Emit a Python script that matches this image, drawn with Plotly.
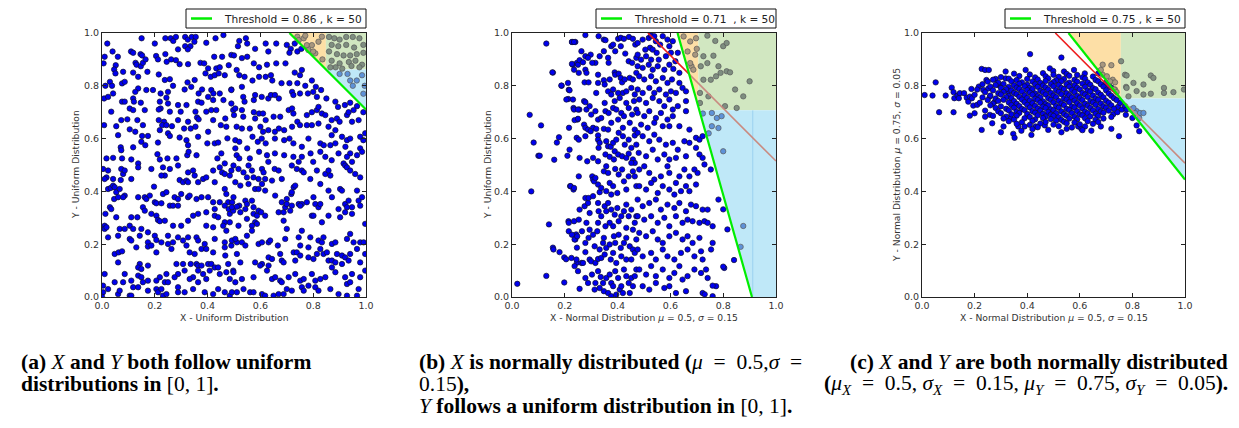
import plotly.graph_objects as go

W, H = 1239, 428

# ---------------- chart values ----------------
thresholds = ["0.86", "0.71", "0.75"]
k_values = [50, 50, 50]
tick_vals = [0.0, 0.2, 0.4, 0.6, 0.8, 1.0]
tick_text = ["0.0", "0.2", "0.4", "0.6", "0.8", "1.0"]

# panel (a): X, Y uniform
a_top_left = [(0.02,0.96),(0.15,0.98),(0.20,0.96),(0.24,0.98),(0.26,0.98),(0.27,0.97),(0.28,0.985),(0.315,0.985),(0.325,0.975),(0.34,0.985),(0.355,0.985),(0.35,0.967),(0.315,0.95),(0.335,0.95),(0.395,0.963),(0.43,0.98),(0.46,0.992),
(0.04,0.93),(0.06,0.91),(0.01,0.91),(0.11,0.93),(0.118,0.925),(0.146,0.92),(0.152,0.915),(0.205,0.913),(0.212,0.90),(0.24,0.92),(0.262,0.90),(0.288,0.938),(0.325,0.938),(0.28,0.897),(0.373,0.887),(0.425,0.91),(0.455,0.91),(0.49,0.917),
(0.006,0.885),(0.052,0.878),(0.046,0.862),(0.127,0.887),(0.131,0.88),(0.147,0.874),(0.155,0.887),(0.165,0.90),(0.172,0.853),(0.245,0.891),(0.294,0.882),(0.326,0.882),(0.387,0.885),(0.402,0.866),(0.433,0.866),(0.446,0.87),(0.48,0.878),
(0.051,0.847),(0.08,0.853),(0.118,0.85),(0.137,0.834),(0.215,0.843),(0.238,0.822),(0.257,0.825),(0.324,0.813),(0.351,0.822),(0.392,0.847),(0.412,0.834),(0.427,0.84),(0.442,0.847),(0.465,0.84),
(0.03,0.815),(0.038,0.80),(0.013,0.80),(0.042,0.771),(0.076,0.809),(0.086,0.815),(0.137,0.79),(0.126,0.777),(0.168,0.784),(0.193,0.784),(0.222,0.771),(0.25,0.777),(0.269,0.80),(0.313,0.786),(0.338,0.796),(0.366,0.771),(0.379,0.786),(0.414,0.784),(0.422,0.771),(0.446,0.771),(0.49,0.786),
(0.008,0.752),(0.023,0.758),(0.076,0.74),(0.086,0.74),(0.118,0.752),(0.121,0.74),(0.147,0.736),(0.219,0.74),(0.244,0.755),(0.222,0.714),(0.25,0.733),(0.288,0.727),(0.32,0.727),(0.364,0.74),(0.377,0.736),(0.402,0.758),(0.421,0.746),(0.46,0.746),(0.49,0.733),
(0.035,0.702),(0.105,0.714),(0.118,0.708),(0.162,0.708),(0.215,0.71),(0.257,0.702),(0.298,0.702),(0.354,0.702),(0.36,0.68),(0.366,0.673),(0.395,0.702),(0.414,0.708),(0.433,0.708),(0.421,0.67),(0.467,0.676),(0.497,0.708),(0.073,0.67),(0.096,0.673),(0.134,0.67),(0.215,0.67),(0.235,0.664),(0.288,0.67),(0.326,0.664),
(0.008,0.651),(0.054,0.647),(0.105,0.635),(0.155,0.651),(0.219,0.632),(0.228,0.651),(0.244,0.651),(0.25,0.62),(0.265,0.647),(0.311,0.638),(0.336,0.638),(0.354,0.645),(0.402,0.626),(0.45,0.651),(0.471,0.645),(0.061,0.613),(0.126,0.626),(0.174,0.61),
(0.152,0.61),(0.149,0.588),(0.212,0.585),(0.257,0.61),(0.294,0.604),(0.32,0.594),(0.326,0.575),(0.364,0.607),(0.399,0.582),(0.427,0.582),(0.44,0.585),(0.475,0.601),(0.071,0.567),(0.118,0.567),(0.164,0.575),
(0.017,0.525),(0.042,0.527),(0.073,0.556),(0.076,0.525),(0.111,0.521),(0.137,0.506),(0.21,0.541),(0.219,0.521),(0.248,0.525),(0.282,0.525),(0.323,0.537),(0.328,0.55),(0.358,0.537),(0.452,0.544),(0.437,0.525),(0.465,0.506)]

a_top_right = [(0.52,0.97),(0.545,0.98),(0.55,0.96),(0.515,0.95),(0.58,0.94),(0.62,0.96),(0.63,0.93),(0.66,0.96),(0.70,0.955),(0.715,0.94),(0.73,0.96),(0.71,0.925),(0.74,0.93),(0.755,0.94),
(0.50,0.915),(0.53,0.905),(0.55,0.91),(0.575,0.885),(0.595,0.87),(0.625,0.88),(0.66,0.885),(0.695,0.885),(0.73,0.85),(0.75,0.84),(0.757,0.86),(0.51,0.86),(0.52,0.84),(0.54,0.834),(0.57,0.82),(0.595,0.834),(0.62,0.834),(0.64,0.84),(0.645,0.82),(0.68,0.81),(0.71,0.81),(0.74,0.81),(0.77,0.80),(0.795,0.82),(0.81,0.796),(0.83,0.784),
(0.49,0.784),(0.53,0.796),(0.535,0.758),(0.54,0.74),(0.575,0.746),(0.58,0.765),(0.605,0.758),(0.63,0.752),(0.64,0.765),(0.655,0.765),(0.67,0.752),(0.72,0.777),(0.725,0.765),(0.75,0.771),(0.78,0.771),(0.80,0.777),(0.814,0.758),(0.85,0.752),(0.884,0.74),(0.894,0.72),(0.92,0.727),(0.94,0.736),(0.966,0.723),(0.99,0.70),
(0.505,0.714),(0.50,0.689),(0.53,0.708),(0.535,0.683),(0.575,0.70),(0.58,0.676),(0.595,0.695),(0.61,0.695),(0.62,0.67),(0.65,0.683),(0.675,0.683),(0.707,0.708),(0.72,0.714),(0.725,0.695),(0.74,0.664),(0.776,0.689),(0.795,0.70),(0.814,0.708),(0.82,0.72),(0.833,0.695),(0.846,0.689),(0.87,0.67),(0.89,0.676),(0.90,0.664),(0.928,0.689),(0.934,0.70),(0.947,0.664),(0.953,0.708),(0.972,0.67),
(0.51,0.645),(0.53,0.638),(0.56,0.638),(0.60,0.645),(0.61,0.626),(0.63,0.632),(0.655,0.626),(0.67,0.638),(0.69,0.632),(0.72,0.645),(0.75,0.651),(0.776,0.651),(0.795,0.651),(0.82,0.657),(0.858,0.645),(0.87,0.613),(0.884,0.632),(0.909,0.607),(0.928,0.594),(0.94,0.60),(0.978,0.607),(0.997,0.62),
(0.505,0.594),(0.52,0.588),(0.57,0.607),(0.59,0.588),(0.605,0.60),(0.62,0.582),(0.655,0.60),(0.69,0.594),(0.71,0.60),(0.725,0.582),(0.757,0.569),(0.782,0.60),(0.827,0.582),(0.84,0.575),(0.865,0.575),(0.884,0.582),(0.922,0.569),(0.94,0.544),(0.978,0.563),(0.99,0.594),
(0.505,0.563),(0.51,0.537),(0.52,0.525),(0.55,0.563),(0.56,0.525),(0.595,0.55),(0.625,0.537),(0.63,0.512),(0.655,0.544),(0.69,0.537),(0.725,0.531),(0.745,0.512),(0.757,0.531),(0.79,0.544),(0.80,0.512),(0.827,0.55),(0.846,0.531),(0.87,0.518),(0.896,0.544),(0.915,0.506),(0.928,0.531),(0.947,0.512),(0.966,0.537),(0.985,0.55)]

a_top_corner = [(0.74,0.986),(0.745,0.973),(0.764,0.98),(0.776,0.954),(0.795,0.954),(0.782,0.935),(0.808,0.923),(0.82,0.967),(0.833,0.986),(0.80,0.93),(0.835,0.90),(0.77,0.99),
(0.86,0.985),(0.88,0.98),(0.90,0.975),(0.925,0.985),(0.95,0.985),(0.975,0.98),(0.87,0.955),(0.895,0.95),(0.925,0.955),(0.955,0.945),(0.99,0.955),(0.86,0.93),(0.89,0.92),(0.915,0.915),(0.94,0.915),(0.965,0.92),(0.99,0.925),(0.87,0.895),(0.90,0.885),(0.935,0.89),(0.96,0.895),(0.985,0.88),(0.885,0.87),(0.91,0.865),(0.975,0.87),(0.945,0.875),(0.865,0.87),
(0.90,0.845),(0.93,0.845),(0.94,0.82),(0.965,0.82),(0.985,0.84),(0.995,0.80),(0.99,0.77),(0.95,0.80)]

a_bottom_left = [(0.004,0.485),(0.017,0.453),(0.023,0.479),(0.073,0.485),(0.08,0.466),(0.086,0.479),(0.111,0.447),(0.137,0.491),(0.187,0.485),(0.231,0.491),(0.238,0.46),(0.257,0.485),(0.288,0.498),(0.326,0.472),(0.345,0.479),(0.351,0.46),(0.383,0.447),(0.395,0.453),(0.421,0.479),(0.446,0.491),(0.455,0.472),(0.465,0.466),(0.484,0.46),(0.01,0.447),(0.042,0.447),(0.071,0.443),(0.294,0.443),(0.307,0.435),(0.32,0.441),(0.326,0.435),(0.364,0.435),(0.427,0.435),(0.49,0.479),
(0.023,0.409),(0.033,0.413),(0.042,0.422),(0.048,0.416),(0.054,0.397),(0.067,0.409),(0.086,0.384),(0.046,0.371),(0.061,0.378),(0.08,0.378),(0.137,0.378),(0.162,0.378),(0.168,0.371),(0.181,0.384),(0.197,0.418),(0.225,0.46),(0.231,0.39),(0.244,0.397),(0.2,0.359),(0.206,0.355),(0.225,0.355),(0.275,0.378),(0.3,0.39),(0.288,0.371),(0.326,0.378),(0.332,0.384),(0.358,0.371),(0.377,0.378),(0.402,0.378),(0.421,0.359),(0.446,0.359),(0.465,0.409),(0.471,0.39),(0.478,0.359),(0.493,0.359),(0.257,0.346),(0.269,0.346),(0.288,0.346),
(0.013,0.315),(0.03,0.34),(0.035,0.333),(0.155,0.34),(0.162,0.327),(0.054,0.302),(0.111,0.302),(0.134,0.302),(0.187,0.315),(0.206,0.308),(0.212,0.292),(0.219,0.287),(0.238,0.289),(0.269,0.27),(0.3,0.27),(0.326,0.289),(0.345,0.308),(0.364,0.315),(0.395,0.321),(0.427,0.333),(0.427,0.308),(0.44,0.302),(0.465,0.346),(0.48,0.333),(0.484,0.315),(0.465,0.283),(0.484,0.283),(0.497,0.327),
(0.01,0.27),(0.01,0.258),(0.017,0.264),(0.067,0.258),(0.086,0.258),(0.105,0.27),(0.118,0.258),(0.149,0.258),(0.174,0.245),(0.2,0.232),(0.225,0.207),(0.25,0.232),(0.288,0.226),(0.307,0.214),(0.326,0.226),(0.358,0.226),(0.395,0.27),(0.421,0.264),(0.459,0.27),(0.471,0.251),(0.023,0.226),(0.061,0.232),(0.105,0.22),(0.111,0.214),(0.143,0.232),(0.174,0.207),(0.206,0.216),(0.269,0.207),(0.364,0.214),(0.389,0.201),(0.427,0.22),(0.465,0.207),
(0.048,0.163),(0.063,0.169),(0.076,0.173),(0.061,0.131),(0.13,0.188),(0.174,0.191),(0.187,0.195),(0.206,0.169),(0.25,0.201),(0.263,0.182),(0.32,0.195),(0.332,0.169),(0.351,0.163),(0.377,0.182),(0.395,0.182),(0.421,0.169),(0.465,0.188),(0.49,0.195),(0.467,0.157),(0.478,0.125),(0.358,0.125),(0.364,0.119),(0.377,0.119),(0.402,0.125),(0.414,0.125),(0.427,0.112),(0.143,0.125),(0.174,0.119),(0.282,0.125),(0.307,0.125),(0.336,0.125),
(0.137,0.112),(0.149,0.106),(0.086,0.087),(0.137,0.081),(0.149,0.075),(0.174,0.062),(0.219,0.075),(0.238,0.056),(0.244,0.087),(0.288,0.087),(0.313,0.1),(0.345,0.075),(0.364,0.1),(0.383,0.087),(0.408,0.1),(0.44,0.112),(0.446,0.087),(0.471,0.094),(0.484,0.068),(0.01,0.087),(0.048,0.056),(0.08,0.056),(0.111,0.062),(0.155,0.056),(0.206,0.062),(0.25,0.056),(0.275,0.075),(0.332,0.068),(0.364,0.056),(0.395,0.068),(0.497,0.1),
(0.004,0.043),(0.004,0.018),(0.023,0.03),(0.061,0.011),(0.067,0.024),(0.105,0.005),(0.118,0.037),(0.137,0.037),(0.174,0.024),(0.206,0.03),(0.212,0.018),(0.225,0.03),(0.231,0.005),(0.244,0.011),(0.288,0.037),(0.288,0.018),(0.313,0.018),(0.345,0.03),(0.389,0.018),(0.421,0.011),(0.44,0.03),(0.465,0.018),(0.484,0.005),(0.111,0.005),(0.0,0.001)]

a_bottom_right = [(0.498,0.498),(0.517,0.485),(0.536,0.472),(0.555,0.498),(0.568,0.479),(0.606,0.485),(0.612,0.472),(0.654,0.485),(0.669,0.479),(0.719,0.498),(0.738,0.485),(0.757,0.479),(0.764,0.472),(0.789,0.447),(0.814,0.479),(0.827,0.428),(0.846,0.466),(0.858,0.479),(0.865,0.46),(0.921,0.498),(0.928,0.491),(0.94,0.479),(0.959,0.466),(0.978,0.453),(0.549,0.453),(0.574,0.453),(0.593,0.447),(0.618,0.447),(0.505,0.435),(0.524,0.422),(0.555,0.428),(0.58,0.409),(0.606,0.428),(0.644,0.441),(0.681,0.447),(0.726,0.416),(0.732,0.422),
(0.498,0.378),(0.543,0.365),(0.549,0.352),(0.568,0.365),(0.574,0.34),(0.593,0.409),(0.618,0.403),(0.656,0.384),(0.681,0.359),(0.7,0.371),(0.717,0.39),(0.719,0.397),(0.745,0.352),(0.757,0.352),(0.776,0.359),(0.801,0.378),(0.808,0.352),(0.82,0.34),(0.827,0.352),(0.858,0.403),(0.871,0.378),(0.902,0.409),(0.909,0.403),(0.921,0.352),(0.934,0.365),(0.947,0.34),(0.966,0.403),(0.972,0.365),(0.985,0.378),(0.978,0.346),(0.52,0.346),
(0.492,0.34),(0.511,0.342),(0.524,0.321),(0.543,0.333),(0.549,0.296),(0.574,0.315),(0.587,0.308),(0.593,0.327),(0.603,0.321),(0.618,0.308),(0.669,0.321),(0.688,0.321),(0.688,0.289),(0.694,0.34),(0.7,0.352),(0.719,0.346),(0.713,0.327),(0.751,0.346),(0.795,0.308),(0.801,0.308),(0.833,0.283),(0.858,0.308),(0.896,0.333),(0.902,0.302),(0.921,0.321),(0.928,0.34),(0.947,0.315),(0.997,0.277),(0.517,0.27),(0.58,0.283),(0.568,0.27),
(0.511,0.207),(0.53,0.207),(0.549,0.232),(0.568,0.251),(0.587,0.277),(0.593,0.201),(0.606,0.207),(0.631,0.207),(0.637,0.214),(0.666,0.195),(0.694,0.22),(0.7,0.258),(0.745,0.226),(0.757,0.251),(0.789,0.226),(0.82,0.214),(0.833,0.207),(0.839,0.226),(0.871,0.201),(0.884,0.207),(0.928,0.22),(0.953,0.207),(0.978,0.207),(0.991,0.207),(0.94,0.239),(0.492,0.214),(0.543,0.195),(0.505,0.22),
(0.511,0.163),(0.524,0.131),(0.58,0.131),(0.606,0.125),(0.631,0.15),(0.644,0.144),(0.675,0.163),(0.681,0.138),(0.688,0.131),(0.726,0.169),(0.732,0.138),(0.738,0.169),(0.751,0.157),(0.782,0.15),(0.801,0.144),(0.814,0.163),(0.827,0.182),(0.839,0.163),(0.852,0.169),(0.858,0.138),(0.871,0.138),(0.884,0.131),(0.89,0.163),(0.909,0.157),(0.921,0.15),(0.934,0.138),(0.909,0.125),(0.94,0.163),(0.978,0.131),(0.997,0.163),(0.966,0.182),(0.751,0.195),(0.782,0.188),
(0.498,0.094),(0.505,0.056),(0.53,0.068),(0.574,0.075),(0.599,0.119),(0.625,0.1),(0.644,0.068),(0.656,0.075),(0.675,0.062),(0.681,0.056),(0.707,0.075),(0.732,0.087),(0.751,0.062),(0.764,0.068),(0.795,0.087),(0.808,0.062),(0.827,0.068),(0.846,0.075),(0.871,0.112),(0.884,0.094),(0.921,0.075),(0.928,0.049),(0.94,0.056),(0.947,0.087),(0.978,0.075),(0.997,0.1),(0.631,0.119),
(0.492,0.018),(0.511,0.018),(0.536,0.03),(0.561,0.018),(0.574,0.018),(0.606,0.011),(0.618,0.005),(0.65,0.005),(0.669,0.011),(0.688,0.011),(0.7,0.03),(0.719,0.024),(0.757,0.037),(0.764,0.024),(0.782,0.043),(0.808,0.037),(0.82,0.024),(0.865,0.03),(0.896,0.011),(0.928,0.005),(0.966,0.005),(0.972,0.03)]

# panel (b): X normal, Y uniform
b_left_sparse = [(0.02,0.05),(0.067,0.69),(0.082,0.585),(0.073,0.40),(0.10,0.535),(0.105,0.535),(0.11,0.65),(0.13,0.96),(0.13,0.08),(0.14,0.275),(0.155,0.85),(0.16,0.52),(0.17,0.585),(0.178,0.605),(0.188,0.80),(0.155,0.187),(0.157,0.18),(0.18,0.17),(0.198,0.15),(0.205,0.143),(0.198,0.055),(0.21,0.535),(0.215,0.785),(0.213,0.75),(0.22,0.42),(0.233,0.407),(0.214,0.287),(0.233,0.716),(0.23,0.88),(0.228,0.966),(0.24,0.966),(0.246,0.887),(0.248,0.672),(0.255,0.71),(0.243,0.237),(0.24,0.218),(0.246,0.187),(0.246,0.13)]

b_center_left = [(0.227,0.966),(0.235,0.966),(0.278,0.992),(0.328,0.988),(0.348,0.975),(0.354,0.973),(0.376,0.95),(0.383,0.956),(0.402,0.978),(0.412,0.982),(0.424,0.978),(0.443,0.985),(0.458,0.978),(0.467,0.956),(0.263,0.931),(0.278,0.912),(0.298,0.918),(0.316,0.887),(0.332,0.912),(0.348,0.931),(0.364,0.906),(0.366,0.887),(0.391,0.931),(0.412,0.95),(0.429,0.922),(0.442,0.893),(0.455,0.887),(0.471,0.906),(0.227,0.883),(0.25,0.88),(0.256,0.897),(0.269,0.889),(0.288,0.906),(0.304,0.887),
(0.153,0.851),(0.187,0.801),(0.212,0.811),(0.218,0.783),(0.235,0.861),(0.253,0.849),(0.275,0.813),(0.278,0.861),(0.282,0.849),(0.29,0.813),(0.326,0.842),(0.326,0.811),(0.348,0.821),(0.351,0.805),(0.37,0.824),(0.389,0.851),(0.391,0.842),(0.404,0.846),(0.412,0.83),(0.417,0.813),(0.427,0.824),(0.446,0.83),(0.458,0.824),(0.471,0.849),(0.383,0.786),(0.364,0.779),(0.42,0.773),(0.433,0.779),(0.452,0.792),(0.465,0.767),(0.319,0.773),(0.376,0.767),(0.402,0.773),
(0.206,0.748),(0.231,0.748),(0.235,0.71),(0.25,0.71),(0.273,0.742),(0.278,0.738),(0.282,0.71),(0.294,0.723),(0.3,0.691),(0.316,0.704),(0.326,0.672),(0.338,0.678),(0.351,0.735),(0.354,0.704),(0.366,0.697),(0.383,0.716),(0.389,0.742),(0.395,0.71),(0.408,0.754),(0.414,0.697),(0.424,0.685),(0.433,0.735),(0.442,0.716),(0.455,0.691),(0.462,0.742),(0.471,0.71),(0.216,0.641),(0.237,0.67),(0.25,0.675),(0.273,0.653),(0.278,0.641),(0.288,0.634),(0.307,0.641),(0.319,0.637),(0.348,0.637),(0.364,0.634),(0.376,0.66),(0.402,0.672),(0.42,0.641),(0.446,0.66),(0.465,0.634),
(0.218,0.558),(0.245,0.603),(0.253,0.596),(0.278,0.609),(0.298,0.628),(0.326,0.612),(0.326,0.596),(0.332,0.584),(0.357,0.59),(0.364,0.571),(0.374,0.569),(0.383,0.584),(0.389,0.552),(0.395,0.596),(0.404,0.622),(0.42,0.609),(0.427,0.577),(0.442,0.596),(0.452,0.565),(0.465,0.612),(0.471,0.577),(0.328,0.565),(0.354,0.54),(0.37,0.531),(0.386,0.521),(0.402,0.54),(0.417,0.533),(0.433,0.527),(0.442,0.543),(0.458,0.521),(0.465,0.508),(0.307,0.527),(0.256,0.527),(0.285,0.514),(0.326,0.514),
(0.222,0.42),(0.235,0.413),(0.253,0.457),(0.304,0.457),(0.307,0.445),(0.311,0.438),(0.316,0.451),(0.326,0.426),(0.332,0.397),(0.338,0.413),(0.348,0.476),(0.357,0.495),(0.364,0.47),(0.37,0.432),(0.383,0.42),(0.391,0.485),(0.399,0.394),(0.404,0.464),(0.417,0.483),(0.424,0.438),(0.433,0.407),(0.442,0.457),(0.452,0.508),(0.458,0.476),(0.471,0.42),(0.465,0.457),(0.357,0.401),(0.376,0.388),
(0.215,0.281),(0.235,0.287),(0.253,0.293),(0.256,0.331),(0.275,0.344),(0.278,0.375),(0.288,0.356),(0.29,0.375),(0.294,0.318),(0.307,0.382),(0.326,0.356),(0.328,0.325),(0.338,0.306),(0.351,0.344),(0.357,0.325),(0.364,0.356),(0.376,0.331),(0.383,0.268),(0.389,0.312),(0.399,0.337),(0.404,0.287),(0.414,0.306),(0.424,0.325),(0.433,0.35),(0.442,0.306),(0.452,0.331),(0.465,0.281),(0.471,0.306),(0.326,0.281),(0.354,0.268),(0.37,0.281),(0.433,0.262),(0.458,0.255),(0.282,0.281),(0.294,0.255),
(0.215,0.249),(0.227,0.236),(0.237,0.218),(0.247,0.23),(0.265,0.249),(0.278,0.205),(0.29,0.224),(0.307,0.236),(0.313,0.192),(0.323,0.249),(0.332,0.18),(0.345,0.205),(0.348,0.224),(0.357,0.186),(0.37,0.199),(0.386,0.23),(0.391,0.205),(0.404,0.236),(0.412,0.186),(0.424,0.205),(0.433,0.224),(0.446,0.192),(0.458,0.18),(0.471,0.218),(0.225,0.148),(0.244,0.142),(0.263,0.129),(0.278,0.17),(0.294,0.142),(0.3,0.135),(0.316,0.129),(0.326,0.144),(0.338,0.148),(0.351,0.161),(0.374,0.142),(0.383,0.167),(0.395,0.129),(0.414,0.154),(0.433,0.142),(0.452,0.142),(0.465,0.167),
(0.237,0.117),(0.25,0.098),(0.269,0.129),(0.278,0.072),(0.288,0.053),(0.303,0.085),(0.316,0.053),(0.326,0.098),(0.336,0.076),(0.345,0.053),(0.357,0.072),(0.37,0.085),(0.376,0.053),(0.383,0.041),(0.391,0.098),(0.402,0.072),(0.408,0.028),(0.414,0.041),(0.424,0.104),(0.433,0.079),(0.442,0.053),(0.452,0.072),(0.458,0.041),(0.465,0.079),(0.471,0.104),(0.313,0.028),(0.332,0.034),(0.348,0.022),(0.364,0.015),(0.376,0.003),(0.395,0.009),(0.42,0.015),(0.446,0.015),(0.256,0.031)]

b_center_right = [(0.476,0.962),(0.495,0.975),(0.518,0.981),(0.527,0.99),(0.539,0.988),(0.545,0.969),(0.523,0.944),(0.505,0.937),(0.533,0.937),(0.561,0.956),(0.571,0.988),(0.589,0.975),(0.596,0.95),(0.609,0.969),(0.476,0.918),(0.489,0.899),(0.508,0.912),(0.527,0.899),(0.548,0.925),(0.556,0.899),(0.583,0.912),(0.602,0.925),(0.619,0.893),(0.628,0.925),
(0.476,0.874),(0.495,0.868),(0.518,0.88),(0.533,0.861),(0.552,0.874),(0.577,0.861),(0.596,0.88),(0.611,0.864),(0.634,0.849),(0.482,0.836),(0.501,0.824),(0.527,0.836),(0.545,0.817),(0.571,0.83),(0.589,0.811),(0.606,0.824),(0.634,0.811),(0.646,0.792),(0.476,0.786),(0.495,0.773),(0.52,0.792),(0.539,0.773),(0.558,0.786),(0.583,0.767),(0.602,0.779),(0.621,0.773),(0.659,0.779),
(0.482,0.748),(0.508,0.735),(0.533,0.754),(0.558,0.742),(0.577,0.723),(0.596,0.748),(0.609,0.71),(0.628,0.723),(0.659,0.742),(0.476,0.697),(0.501,0.685),(0.52,0.704),(0.545,0.678),(0.564,0.697),(0.589,0.672),(0.609,0.685),(0.634,0.647),(0.659,0.704),(0.489,0.653),(0.514,0.641),(0.539,0.66),(0.571,0.647),(0.596,0.647),(0.672,0.634),
(0.476,0.622),(0.495,0.609),(0.52,0.59),(0.539,0.615),(0.558,0.596),(0.583,0.577),(0.609,0.584),(0.628,0.558),(0.653,0.59),(0.672,0.584),(0.697,0.603),(0.71,0.596),(0.722,0.609),(0.48,0.546),(0.508,0.533),(0.533,0.558),(0.552,0.521),(0.577,0.54),(0.596,0.521),(0.621,0.527),(0.659,0.533),(0.697,0.565),(0.71,0.54),(0.722,0.527),
(0.482,0.483),(0.501,0.495),(0.52,0.47),(0.539,0.445),(0.564,0.457),(0.589,0.495),(0.596,0.47),(0.621,0.432),(0.634,0.457),(0.653,0.483),(0.672,0.457),(0.691,0.483),(0.703,0.47),(0.729,0.502),(0.482,0.42),(0.508,0.407),(0.527,0.432),(0.552,0.394),(0.571,0.42),(0.596,0.407),(0.615,0.388),(0.64,0.401),(0.659,0.42),(0.672,0.401),(0.697,0.426),
(0.476,0.369),(0.495,0.344),(0.52,0.356),(0.545,0.369),(0.564,0.331),(0.589,0.35),(0.615,0.337),(0.634,0.356),(0.659,0.325),(0.678,0.35),(0.697,0.344),(0.722,0.331),(0.741,0.331),(0.476,0.306),(0.501,0.293),(0.527,0.306),(0.552,0.281),(0.577,0.3),(0.596,0.268),(0.621,0.306),(0.646,0.281),(0.665,0.293),(0.684,0.287),(0.71,0.281),(0.729,0.287),(0.741,0.281),(0.76,0.268),
(0.482,0.243),(0.508,0.23),(0.533,0.249),(0.552,0.218),(0.571,0.205),(0.596,0.23),(0.621,0.243),(0.646,0.218),(0.665,0.23),(0.684,0.205),(0.71,0.224),(0.76,0.205),(0.476,0.18),(0.495,0.154),(0.527,0.167),(0.545,0.142),(0.571,0.18),(0.589,0.154),(0.615,0.142),(0.64,0.167),(0.665,0.18),(0.691,0.154),(0.716,0.173),(0.722,0.142),(0.754,0.18),
(0.482,0.104),(0.508,0.085),(0.527,0.117),(0.545,0.079),(0.571,0.104),(0.596,0.072),(0.615,0.091),(0.634,0.117),(0.646,0.066),(0.665,0.079),(0.691,0.104),(0.716,0.091),(0.735,0.104),(0.741,0.072),(0.773,0.041),(0.804,0.11),(0.495,0.041),(0.52,0.028),(0.545,0.053),(0.577,0.034),(0.596,0.041),(0.621,0.015),(0.659,0.022),(0.722,0.015),(0.76,0.003),
(0.753,0.483),(0.782,0.369),(0.80,0.332),(0.816,0.256),(0.80,0.115),(0.841,0.14),(0.76,0.043),(0.73,0.01)]

b_top_corner = [(0.65,0.987),(0.675,0.968),(0.697,0.98),(0.694,0.918),(0.68,0.874),(0.687,0.861),(0.675,0.886),(0.70,0.94),(0.665,0.93),
(0.725,0.912),(0.74,0.886),(0.763,0.914),(0.782,0.874),(0.80,0.95),(0.813,0.962),(0.715,0.874),(0.725,0.823),(0.753,0.823),(0.773,0.836),(0.79,0.849),(0.813,0.855),(0.826,0.851),(0.845,0.786),(0.876,0.76),(0.90,0.817),(0.807,0.723),(0.851,0.716),(0.744,0.76),(0.712,0.773),(0.712,0.735),(0.74,0.99),(0.77,0.97),
(0.723,0.695),(0.757,0.697),(0.776,0.678),(0.757,0.647),(0.782,0.64),(0.794,0.685),(0.80,0.552),(0.876,0.269),(0.866,0.19),(0.745,0.62)]

# panel (c): X normal, Y normal
c_outer = [(0.01,0.765),(0.04,0.763),(0.052,0.813),(0.065,0.70),(0.09,0.763),(0.113,0.793),(0.12,0.776),(0.123,0.753),(0.12,0.70),(0.135,0.763),(0.144,0.772),(0.14,0.753),(0.16,0.772),(0.17,0.755),(0.176,0.74),(0.182,0.759),(0.19,0.753),(0.188,0.788),(0.195,0.725),(0.182,0.687),(0.2,0.696),(0.21,0.728),(0.216,0.797),(0.227,0.864),(0.24,0.86),(0.254,0.86),(0.233,0.784),(0.245,0.822),(0.252,0.79),(0.258,0.759),(0.24,0.683),(0.258,0.69),(0.227,0.633),(0.267,0.658),(0.28,0.826),(0.29,0.803),(0.277,0.74),(0.31,0.646),(0.30,0.624),(0.318,0.854),(0.318,0.828),(0.328,0.778),(0.338,0.677),(0.347,0.618),(0.352,0.603),(0.366,0.646),(0.378,0.63),(0.394,0.86),(0.416,0.614),(0.432,0.646),(0.467,0.65),(0.486,0.866),(0.499,0.856),(0.53,0.907),(0.411,0.92),(0.53,0.624),(0.54,0.854),(0.578,0.86),(0.594,0.646),(0.606,0.637),(0.619,0.847),(0.644,0.63),(0.67,0.847),(0.68,0.646),(0.72,0.637),(0.727,0.692),(0.743,0.70),(0.745,0.72),(0.749,0.609),(0.80,0.678),(0.816,0.65),(0.826,0.628),(0.76,0.71),(0.775,0.69)]

c_corner = [(0.687,0.88),(0.72,0.878),(0.687,0.842),(0.703,0.836),(0.725,0.823),(0.734,0.813),(0.715,0.817),(0.68,0.86),(0.734,0.786),
(0.757,0.893),(0.772,0.842),(0.778,0.839),(0.804,0.811),(0.842,0.805),(0.87,0.839),(0.88,0.83),(0.92,0.792),(0.956,0.776),(0.996,0.786),(0.92,0.773),(0.816,0.78),(0.776,0.796),(0.785,0.76),(0.778,0.792),(0.842,0.767),(0.87,0.77),
(0.753,0.735),(0.772,0.723),(0.794,0.71),(0.816,0.704),(0.829,0.697),(0.842,0.697),(0.804,0.716),(0.81,0.697),(0.778,0.71),(0.826,0.678)]

c_core = [(0.35,0.846),(0.41,0.843),(0.46,0.848),(0.50,0.842),(0.55,0.845),(0.59,0.841),
(0.30,0.833),(0.37,0.837),(0.43,0.832),(0.47,0.836),(0.52,0.834),(0.56,0.838),(0.61,0.832),(0.65,0.835),
(0.27,0.823),(0.33,0.827),(0.36,0.822),(0.40,0.826),(0.44,0.824),(0.48,0.828),(0.51,0.821),(0.54,0.826),(0.58,0.823),(0.62,0.827),(0.66,0.822),
(0.25,0.816),(0.29,0.812),(0.34,0.817),(0.38,0.813),(0.42,0.816),(0.45,0.811),(0.47,0.818),(0.50,0.814),(0.53,0.817),(0.56,0.812),(0.59,0.816),(0.63,0.813),(0.67,0.817),(0.70,0.812),
(0.23,0.806),(0.28,0.803),(0.31,0.807),(0.35,0.802),(0.37,0.808),(0.40,0.804),(0.43,0.806),(0.46,0.801),(0.49,0.807),(0.52,0.803),(0.55,0.806),(0.58,0.802),(0.61,0.808),(0.64,0.804),(0.68,0.806),(0.71,0.801),
(0.26,0.797),(0.30,0.792),(0.33,0.796),(0.36,0.793),(0.39,0.798),(0.41,0.792),(0.44,0.796),(0.47,0.794),(0.50,0.798),(0.53,0.792),(0.56,0.797),(0.59,0.793),(0.62,0.796),(0.65,0.791),(0.69,0.797),(0.72,0.793),
(0.21,0.786),(0.27,0.783),(0.32,0.787),(0.34,0.782),(0.37,0.788),(0.40,0.784),(0.42,0.787),(0.45,0.781),(0.48,0.786),(0.51,0.783),(0.54,0.788),(0.57,0.784),(0.60,0.786),(0.63,0.782),(0.66,0.787),(0.70,0.783),(0.73,0.786),
(0.24,0.776),(0.29,0.772),(0.31,0.777),(0.35,0.773),(0.38,0.778),(0.41,0.774),(0.43,0.771),(0.46,0.776),(0.49,0.773),(0.52,0.777),(0.55,0.772),(0.58,0.776),(0.61,0.773),(0.64,0.778),(0.67,0.774),(0.71,0.771),(0.74,0.776),
(0.20,0.766),(0.26,0.763),(0.30,0.767),(0.33,0.762),(0.36,0.768),(0.39,0.764),(0.42,0.766),(0.44,0.761),(0.47,0.767),(0.50,0.763),(0.53,0.768),(0.56,0.764),(0.59,0.762),(0.62,0.767),(0.65,0.763),(0.68,0.766),(0.72,0.762),
(0.23,0.756),(0.28,0.752),(0.32,0.757),(0.34,0.753),(0.37,0.758),(0.40,0.754),(0.43,0.751),(0.45,0.756),(0.48,0.753),(0.51,0.757),(0.54,0.752),(0.57,0.756),(0.60,0.754),(0.63,0.758),(0.66,0.752),(0.69,0.756),(0.73,0.753),
(0.25,0.746),(0.29,0.743),(0.31,0.747),(0.35,0.742),(0.38,0.748),(0.41,0.744),(0.44,0.746),(0.46,0.741),(0.49,0.747),(0.52,0.743),(0.55,0.748),(0.58,0.744),(0.61,0.746),(0.64,0.742),(0.67,0.747),(0.70,0.743),(0.74,0.746),
(0.22,0.736),(0.27,0.733),(0.33,0.737),(0.36,0.732),(0.39,0.738),(0.42,0.734),(0.45,0.736),(0.47,0.731),(0.50,0.737),(0.53,0.733),(0.56,0.738),(0.59,0.734),(0.62,0.732),(0.65,0.737),(0.68,0.733),(0.71,0.736),
(0.26,0.726),(0.30,0.722),(0.34,0.727),(0.37,0.723),(0.40,0.728),(0.43,0.724),(0.46,0.721),(0.48,0.726),(0.51,0.723),(0.54,0.727),(0.57,0.722),(0.60,0.726),(0.63,0.724),(0.66,0.728),(0.69,0.722),(0.72,0.726),
(0.28,0.716),(0.32,0.713),(0.35,0.717),(0.38,0.712),(0.41,0.718),(0.44,0.714),(0.47,0.716),(0.49,0.711),(0.52,0.717),(0.55,0.713),(0.58,0.718),(0.61,0.714),(0.64,0.716),(0.67,0.712),(0.70,0.717),(0.73,0.713),
(0.24,0.706),(0.29,0.703),(0.33,0.707),(0.36,0.702),(0.39,0.708),(0.42,0.704),(0.45,0.706),(0.48,0.701),(0.50,0.707),(0.53,0.703),(0.56,0.708),(0.59,0.704),(0.62,0.702),(0.65,0.707),(0.68,0.703),(0.71,0.706),
(0.30,0.696),(0.34,0.692),(0.37,0.697),(0.40,0.693),(0.43,0.698),(0.46,0.694),(0.49,0.691),(0.51,0.696),(0.54,0.693),(0.57,0.697),(0.60,0.692),(0.63,0.696),(0.66,0.694),(0.69,0.698),
(0.27,0.686),(0.32,0.683),(0.36,0.687),(0.41,0.682),(0.44,0.688),(0.47,0.684),(0.50,0.686),(0.52,0.681),(0.55,0.687),(0.58,0.683),(0.61,0.688),(0.64,0.684),(0.67,0.686),(0.72,0.682),
(0.31,0.676),(0.35,0.672),(0.39,0.677),(0.43,0.673),(0.46,0.678),(0.49,0.674),(0.53,0.671),(0.56,0.676),(0.59,0.673),(0.62,0.677),(0.66,0.672),(0.69,0.676),
(0.33,0.666),(0.38,0.662),(0.42,0.667),(0.47,0.663),(0.51,0.668),(0.54,0.664),(0.58,0.661),(0.63,0.666),(0.67,0.663),
(0.36,0.656),(0.41,0.652),(0.45,0.657),(0.50,0.653),(0.55,0.658),(0.60,0.654),(0.65,0.656),
(0.39,0.646),(0.44,0.643),(0.52,0.647),(0.57,0.642),(0.62,0.646),
(0.42,0.636),(0.48,0.633),(0.55,0.637),(0.61,0.632)]

# ---------------- geometry / styling ----------------
panel_px = [(102, 366), (512, 776), (922, 1185)]
plot_top, plot_bottom = 33, 297
green_lines = [((0.71, 1.0), (1.0, 0.71)), ((0.627, 1.0), (0.909, 0.0)), ((0.557, 1.0), (1.0, 0.445))]
red_lines = [None, ((0.515, 1.0), (0.671, 0.844), (1.0, 0.515)), ((0.507, 1.0), (0.755, 0.752), (1.0, 0.507))]
splits = [(0.848, 0.862), (0.706, 0.707), (0.756, 0.752)]

panels_pts = [a_top_left + a_top_right + a_top_corner + a_bottom_left + a_bottom_right,
              b_left_sparse + b_center_left + b_center_right + b_top_corner,
              c_outer + c_corner + c_core]

C_ORANGE, C_GREEN, C_BLUE = "#fddfa6", "#d1e7c1", "#bfe8f8"
PT_COL = {"n": "#0000f0", "o": "#a8977f", "g": "#7e8e80", "b": "#5e92d8"}


def side(x, y, p0, p1):
    return (p1[0] - p0[0]) * (y - p0[1]) - (p1[1] - p0[1]) * (x - p0[0])


def classify(x, y, g, tx, ty):
    ref = side(1.0, 1.0, g[0], g[1])
    if side(x, y, g[0], g[1]) * ref <= 0:
        return "n"
    if x >= tx and y >= ty:
        return "g"
    if y >= ty:
        return "o"
    return "b"


def line_x_at(g, y):
    (x0, y0), (x1, y1) = g
    return x0 + (y - y0) * (x1 - x0) / (y1 - y0)


def line_y_at(g, x):
    (x0, y0), (x1, y1) = g
    return y0 + (x - x0) * (y1 - y0) / (x1 - x0)


fig = go.Figure()
shapes = []
annotations = []
ydom = [1 - plot_bottom / H, 1 - plot_top / H]
FONT = "DejaVu Sans"

for i in range(3):
    sfx = "" if i == 0 else str(i + 1)
    xr, yr = "x" + sfx, "y" + sfx
    g = green_lines[i]
    tx, ty = splits[i]
    pts = panels_pts[i]
    cls = [classify(x, y, g, tx, ty) for x, y in pts]

    ox = line_x_at(g, 1.0)
    oy_end = line_y_at(g, tx)
    shapes.append(dict(type="path", xref=xr, yref=yr, layer="below", line=dict(width=0),
                       fillcolor=C_ORANGE,
                       path=f"M {ox},1 L {tx},1 L {tx},{max(oy_end, ty)} Z"))
    shapes.append(dict(type="rect", xref=xr, yref=yr, layer="below", line=dict(width=0),
                       fillcolor=C_GREEN, x0=tx, x1=1, y0=ty, y1=1))
    bx = line_x_at(g, ty)
    if g[1][1] > 0:
        bpath = f"M {bx},{ty} L 1,{ty} L 1,{g[1][1]} Z"
    else:
        bpath = f"M {bx},{ty} L 1,{ty} L 1,0 L {g[1][0]},0 Z"
    shapes.append(dict(type="path", xref=xr, yref=yr, layer="below", line=dict(width=0),
                       fillcolor=C_BLUE, path=bpath))
    if i == 1:
        shapes.append(dict(type="line", xref=xr, yref=yr, layer="below",
                           x0=0.912, x1=0.912, y0=0, y1=ty,
                           line=dict(color="rgba(110,185,230,0.45)", width=1)))

    for c in ["n", "o", "g", "b"]:
        xs = [p[0] for p, k in zip(pts, cls) if k == c]
        ys = [p[1] for p, k in zip(pts, cls) if k == c]
        if not xs:
            continue
        fig.add_trace(go.Scatter(
            x=xs, y=ys, mode="markers", xaxis=xr, yaxis=yr, showlegend=False,
            hoverinfo="skip",
            marker=dict(size=5.4, color=PT_COL[c],
                        line=dict(color="#10102a" if c == "n" else "#5a5a5a", width=0.7))))

    r = red_lines[i]
    if r is not None:
        fig.add_trace(go.Scatter(x=[r[0][0], r[1][0]], y=[r[0][1], r[1][1]], mode="lines",
                                 xaxis=xr, yaxis=yr, showlegend=False, hoverinfo="skip",
                                 line=dict(color="#ee1c1c", width=1.6)))
        fig.add_trace(go.Scatter(x=[r[1][0], r[2][0]], y=[r[1][1], r[2][1]], mode="lines",
                                 xaxis=xr, yaxis=yr, showlegend=False, hoverinfo="skip",
                                 line=dict(color="#c98a80", width=1.6)))
    fig.add_trace(go.Scatter(x=[g[0][0], g[1][0]], y=[g[0][1], g[1][1]], mode="lines",
                             xaxis=xr, yaxis=yr, showlegend=False, hoverinfo="skip",
                             name=f"Threshold = {thresholds[i]} , k = {k_values[i]}",
                             line=dict(color="#00ee00", width=2.2)))

    px0, px1 = panel_px[i]
    axis_common = dict(range=[0, 1], tickvals=tick_vals, ticktext=tick_text, ticks="inside",
                       ticklen=4, tickwidth=1, tickcolor="#222", showline=True, linecolor="#222",
                       linewidth=1, mirror="ticks", showgrid=False, zeroline=False,
                       automargin=False,
                       tickfont=dict(family=FONT, size=9.5, color="#333"), fixedrange=True)
    fig.update_layout(**{
        "xaxis" + sfx: dict(domain=[px0 / W, px1 / W], anchor=yr, **axis_common),
        "yaxis" + sfx: dict(domain=ydom, anchor=xr, **axis_common),
    })

    lx0 = px1 - 180
    shapes.append(dict(type="rect", xref="paper", yref="paper", x0=lx0 / W, x1=px1 / W,
                       y0=1 - 28 / H, y1=1 - 9 / H, line=dict(color="#111", width=1),
                       fillcolor="white"))
    shapes.append(dict(type="line", xref="paper", yref="paper", x0=(lx0 + 5) / W,
                       x1=(lx0 + 26) / W, y0=1 - 18.5 / H, y1=1 - 18.5 / H,
                       line=dict(color="#00ee00", width=2.5)))
    sep = "  , " if i == 1 else " , "
    annotations.append(dict(xref="paper", yref="paper", x=(lx0 + 36) / W, y=1 - 18.5 / H,
                            xanchor="left", yanchor="middle", showarrow=False,
                            text=f"Threshold = {thresholds[i]}{sep}k = {k_values[i]}",
                            font=dict(family=FONT, size=10.6, color="#222")))

xlabels = ["X - Uniform Distribution",
           "X - Normal Distribution <i>μ</i> = 0.5, <i>σ</i> = 0.15",
           "X - Normal Distribution <i>μ</i> = 0.5, <i>σ</i> = 0.15"]
ylabels = ["Y - Uniform Distribution", "Y - Uniform Distribution",
           "Y - Normal Distribution <i>μ</i> = 0.75, <i>σ</i> = 0.05"]
ylabel_x = [75, 487, 896]
for i in range(3):
    px0, px1 = panel_px[i]
    annotations.append(dict(xref="paper", yref="paper", x=(px0 + px1) / 2 / W, y=1 - 317 / H,
                            xanchor="center", yanchor="middle", showarrow=False, text=xlabels[i],
                            font=dict(family=FONT, size=9.2, color="#333")))
    annotations.append(dict(xref="paper", yref="paper", x=ylabel_x[i] / W,
                            y=1 - (plot_top + plot_bottom) / 2 / H, textangle=-90,
                            xanchor="center", yanchor="middle", showarrow=False, text=ylabels[i],
                            font=dict(family=FONT, size=9.2, color="#333")))

SERIF = "Liberation Serif"
EQ = "\u2002=\u2002"
caps = [
    (20, 362, "left", "<b>(a)</b> <i>X</i> <b>and</b> <i>Y</i> <b>both follow uniform</b>"),
    (20, 384, "left", "<b>distributions in</b> [0, 1]<b>.</b>"),
    (418, 362, "left", f"<b>(b)</b> <i>X</i> <b>is normally distributed (</b><i>μ</i>{EQ}0.5,<i>σ</i>{EQ}"),
    (418, 384, "left", "0.15<b>),</b>"),
    (418, 406, "left", "<i>Y</i> <b>follows a uniform distribution in</b> [0, 1]<b>.</b>"),
    (1229, 362, "right", "<b>(c)</b> <i>X</i> <b>and</b> <i>Y</i> <b>are both normally distributed</b>"),
    (1229, 384, "right", f"<b>(</b><i>μ<sub>X</sub></i>{EQ}0.5, <i>σ<sub>X</sub></i>{EQ}0.15, "
                         f"<i>μ<sub>Y</sub></i>{EQ}0.75, <i>σ<sub>Y</sub></i>{EQ}0.05<b>).</b>"),
]
for x, y, anc, txt in caps:
    annotations.append(dict(xref="paper", yref="paper", x=x / W, y=1 - y / H, xanchor=anc,
                            yanchor="middle", showarrow=False, text=txt, borderpad=0,
                            font=dict(family=SERIF, size=21.5, color="#000")))

fig.update_layout(width=W, height=H, margin=dict(l=0, r=0, t=0, b=0, pad=0, autoexpand=False),
                  paper_bgcolor="white", plot_bgcolor="white",
                  shapes=shapes, annotations=annotations, showlegend=False)

fig.write_html("out.html", config={"displayModeBar": False},
               post_script="document.body.style.margin='0';"
                           "document.body.style.overflow='hidden';"
                           "document.documentElement.style.overflow='hidden';")
